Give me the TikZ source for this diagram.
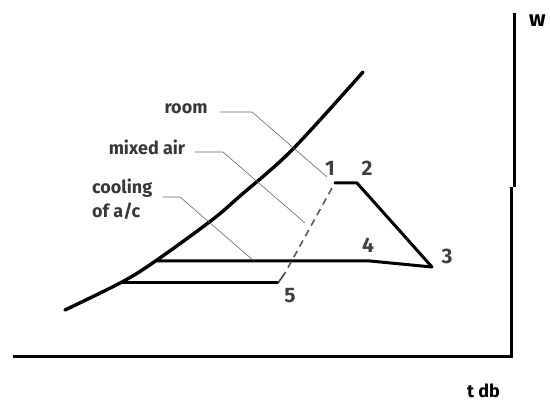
\documentclass[tikz,border=0pt]{standalone}
\usepackage{fontspec}
\setmainfont{Fira Sans}
\begin{document}
\begin{tikzpicture}[x=1pt,y=-1pt,
  heavy/.style={line width=3pt, line join=round, line cap=round},
  axisline/.style={line width=3pt},
  leader/.style={line width=0.6pt, draw=black!60},
  lbl/.style={font=\bfseries\fontsize{18}{20}\selectfont, text=black!78, inner sep=0pt},
  num/.style={font=\bfseries\fontsize{21}{22}\selectfont, text=black!75, inner sep=0pt}]
\useasboundingbox (0,0) rectangle (550,403);
% axes
\coordinate (o) at (13,357);
\coordinate (r0) at (511,357);
\coordinate (r1) at (511,187);
\coordinate (r2) at (514,187);
\coordinate (r3) at (514,13);
\draw[axisline] (o) -- (r0) -- (r1);
\draw[axisline] (r2) -- (r3);
\node[font=\bfseries\fontsize{22}{24}\selectfont, inner sep=0pt, anchor=west] (w) at (529,21) {w};
\node[lbl, text=black, anchor=west] (tdb) at (467,391) {t db};
% saturation curve
\draw[line width=3.4pt, line cap=round] plot[smooth, tension=0.55] coordinates {(65,310) (122,282) (157,260) (212,220) (240,196) (292,150) (363,72)};
% points
\coordinate (p1) at (335,183);
\coordinate (p2) at (357,183);
\coordinate (p3) at (432,267);
\coordinate (p4) at (370,261);
\coordinate (c4) at (157,261);
\coordinate (s5) at (122,283);
\coordinate (q5) at (278,283);
\coordinate (t5) at (285,273);
\coordinate (d1) at (332,188);
\draw[heavy] (p1) -- (p2) -- (p3) -- (p4) -- (c4);
\draw[heavy] (s5) -- (q5);
\draw[line width=1.6pt, draw=black!70] (q5) -- (t5);
\draw[line width=1.6pt, draw=black!65, dash pattern=on 7pt off 5pt] (d1) -- (t5);
% labels
\node[num] (n1) at (330,168) {1};
\node[num] (n2) at (367,168) {2};
\node[num] (n3) at (447,256) {3};
\node[num] (n4) at (368,245) {4};
\node[num] (n5) at (290,296) {5};
% leaders
\node[lbl] (room) at (186,109) {room};
\node[lbl] (mixed) at (147,147) {mixed air};
\node[lbl, anchor=west] (cool) at (92,188) {cooling};
\node[lbl, anchor=west] (ofac) at (92,211) {of a/c};
\coordinate (ra) at (220,112); \coordinate (rb) at (252,112); \coordinate (rc) at (327,177);
\coordinate (ma) at (195,152); \coordinate (mb) at (223,152); \coordinate (mc) at (305,223);
\coordinate (ca) at (163,197); \coordinate (cb) at (180,197); \coordinate (cc) at (254,261);
\draw[leader] (ra) -- (rb) -- (rc);
\draw[leader] (ma) -- (mb) -- (mc);
\draw[leader] (ca) -- (cb) -- (cc);
\end{tikzpicture}
\end{document}
